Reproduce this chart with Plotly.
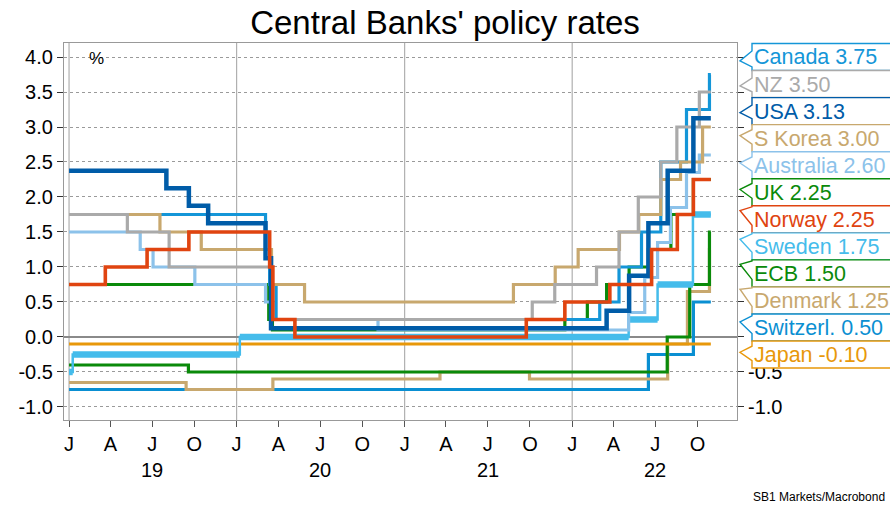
import plotly.graph_objects as go
from decimal import Decimal, ROUND_HALF_UP

END = "2022-10-30"

# ---------------- data (step change dates and policy rates) ----------------
usa_dates = ["2019-01-01", "2019-08-01", "2019-09-19", "2019-10-31", "2020-03-04", "2020-03-16",
             "2022-03-17", "2022-05-05", "2022-06-16", "2022-07-28", "2022-09-22"]
usa_rates = [2.375, 2.125, 1.875, 1.625, 1.125, 0.125, 0.375, 0.875, 1.625, 2.375, 3.125]

canada_dates = ["2019-01-01", "2020-03-04", "2020-03-13", "2020-03-27", "2022-03-02", "2022-04-13",
                "2022-06-01", "2022-07-13", "2022-09-07", "2022-10-27"]
canada_rates = [1.75, 1.25, 0.75, 0.25, 0.50, 1.00, 1.50, 2.50, 3.25, 3.75]

nz_dates = ["2019-01-01", "2019-05-08", "2019-08-07", "2020-03-16", "2021-10-06", "2021-11-24",
            "2022-02-23", "2022-04-13", "2022-05-25", "2022-07-13", "2022-08-17", "2022-10-05"]
nz_rates = [1.75, 1.50, 1.00, 0.25, 0.50, 0.75, 1.00, 1.50, 2.00, 2.50, 3.00, 3.50]

korea_dates = ["2019-01-01", "2019-07-18", "2019-10-16", "2020-03-17", "2020-05-28", "2021-08-26",
               "2021-11-25", "2022-01-14", "2022-04-14", "2022-05-26", "2022-07-13", "2022-08-25",
               "2022-10-12"]
korea_rates = [1.75, 1.50, 1.25, 0.75, 0.50, 0.75, 1.00, 1.25, 1.50, 1.75, 2.25, 2.50, 3.00]

australia_dates = ["2019-01-01", "2019-06-05", "2019-07-03", "2019-10-02", "2020-03-04", "2020-03-20",
                   "2020-11-04", "2022-05-04", "2022-06-08", "2022-07-06", "2022-08-03", "2022-09-07",
                   "2022-10-05"]
australia_rates = [1.50, 1.25, 1.00, 0.75, 0.50, 0.25, 0.10, 0.35, 0.85, 1.35, 1.85, 2.35, 2.60]

uk_dates = ["2019-01-01", "2020-03-11", "2020-03-19", "2021-12-16", "2022-02-03", "2022-03-17",
            "2022-05-05", "2022-06-16", "2022-08-04", "2022-09-22"]
uk_rates = [0.75, 0.25, 0.10, 0.25, 0.50, 0.75, 1.00, 1.25, 1.75, 2.25]

norway_dates = ["2019-01-01", "2019-03-21", "2019-06-20", "2019-09-19", "2020-03-13", "2020-03-20",
                "2020-05-07", "2021-09-23", "2021-12-16", "2022-03-24", "2022-06-23", "2022-08-18",
                "2022-09-22"]
norway_rates = [0.75, 1.00, 1.25, 1.50, 1.00, 0.25, 0.00, 0.25, 0.50, 0.75, 1.25, 1.75, 2.25]

sweden_dates = ["2019-01-01", "2019-01-09", "2020-01-08", "2022-05-04", "2022-07-06", "2022-09-21"]
sweden_rates = [-0.50, -0.25, 0.00, 0.25, 0.75, 1.75]

ecb_dates = ["2019-01-01", "2019-09-18", "2022-07-27", "2022-09-14", "2022-10-27"]
ecb_rates = [-0.40, -0.50, 0.00, 0.75, 1.50]

denmark_dates = ["2019-01-01", "2019-09-13", "2020-03-20", "2021-03-19", "2021-09-30", "2022-07-28",
                 "2022-09-09", "2022-10-27"]
denmark_rates = [-0.65, -0.75, -0.60, -0.50, -0.60, -0.10, 0.65, 1.25]

swiss_dates = ["2019-01-01", "2022-06-16", "2022-09-22"]
swiss_rates = [-0.75, -0.25, 0.50]

japan_dates = ["2019-01-01"]
japan_rates = [-0.10]

# callout labels (top to bottom)
callout_names = ["Canada", "NZ", "USA", "S Korea", "Australia", "UK", "Norway", "Sweden", "ECB",
                 "Denmark", "Switzerl.", "Japan"]

y_ticks = [-1.0, -0.5, 0.0, 0.5, 1.0, 1.5, 2.0, 2.5, 3.0, 3.5, 4.0]
month_letters = ["J", "A", "J", "O"]
years = [2019, 2020, 2021, 2022]

# ---------------- styling ----------------
C = {
    "Canada": "#1496d8", "NZ": "#aaaaaa", "USA": "#005ca8", "S Korea": "#c8a86e",
    "Australia": "#8cc2ea", "UK": "#0a8a0a", "Norway": "#e04410", "Sweden": "#45bceb",
    "ECB": "#0a8a0a", "Denmark": "#c8a86e", "Switzerl.": "#0a8fd2", "Japan": "#e8980a",
}
FONT = "Arial, Liberation Sans, sans-serif"

W, H = 890, 507
L, R, T, B = 64, 737, 43, 420
YMIN, YMAX = -1.186, 4.2
XMIN, XMAX = "2018-12-21", "2022-12-26"


def xp(px):
    return (px - L) / (R - L)


def yp(py):
    return (B - py) / (B - T)


def val_to_py(v):
    return B - (v - YMIN) / (YMAX - YMIN) * (B - T)


def step_xy(dates, rates):
    return list(dates) + [END], list(rates) + [rates[-1]]


series = {
    "Canada": (canada_dates, canada_rates), "NZ": (nz_dates, nz_rates), "USA": (usa_dates, usa_rates),
    "S Korea": (korea_dates, korea_rates), "Australia": (australia_dates, australia_rates),
    "UK": (uk_dates, uk_rates), "Norway": (norway_dates, norway_rates),
    "Sweden": (sweden_dates, sweden_rates), "ECB": (ecb_dates, ecb_rates),
    "Denmark": (denmark_dates, denmark_rates), "Switzerl.": (swiss_dates, swiss_rates),
    "Japan": (japan_dates, japan_rates),
}

fig = go.Figure()

draw_order = ["Switzerl.", "Denmark", "ECB", "Japan", "Sweden", "UK", "Australia", "Canada",
              "S Korea", "NZ", "USA", "Norway"]
widths = {"USA": 4.5, "Norway": 3.6, "Sweden": 2.5}

for name in draw_order:
    d, r = series[name]
    x, y = step_xy(d, r)
    fig.add_trace(go.Scatter(
        x=x, y=y, mode="lines", line=dict(color=C[name], width=widths.get(name, 3.2), shape="hv"),
        yaxis="y2" if name == "Norway" else "y", hoverinfo="skip", showlegend=False))
    if name == "Sweden":
        # thick horizontal segments of the Swedish rate
        sx, sy = [], []
        xs, ys = step_xy(d, r)
        for i in range(len(d)):
            sx += [xs[i], xs[i + 1], None]
            sy += [ys[i], ys[i], None]
        fig.add_trace(go.Scatter(x=sx, y=sy, mode="lines", line=dict(color=C[name], width=6.5),
                                 hoverinfo="skip", showlegend=False))

# ---------------- shapes: year gridlines ----------------
shapes = []
for yr in years:
    shapes.append(dict(type="line", xref="x", yref="paper", x0=f"{yr}-01-01", x1=f"{yr}-01-01",
                       y0=0, y1=1, line=dict(color="#b0b0b0", width=1.2), layer="below"))

# ---------------- callouts ----------------
annotations = []
box_left, tip_x, box_right = 752, 740, 905
box_centers = [57 + 27.05 * i for i in range(len(callout_names))]
for name, cy in zip(callout_names, box_centers):
    d, r = series[name]
    last = r[-1]
    top, bot = cy - 13.5, cy + 13.5
    vpy = val_to_py(last)
    tip_y = cy + 0.22 * (vpy - cy)
    a = max(top + 1, min(tip_y, cy) - 6)
    b = min(bot - 1, max(tip_y, cy) + 6)
    path = (f"M {xp(box_left)},{yp(top)} L {xp(box_left)},{yp(a)} L {xp(tip_x)},{yp(tip_y)} "
            f"L {xp(box_left)},{yp(b)} L {xp(box_left)},{yp(bot)} L {xp(box_right)},{yp(bot)} "
            f"L {xp(box_right)},{yp(top)} Z")
    shapes.append(dict(type="path", xref="paper", yref="paper", path=path, fillcolor="white",
                       line=dict(color=C[name], width=1.4), layer="above"))
    txt = f"{name} {Decimal(str(last)).quantize(Decimal('0.01'), rounding=ROUND_HALF_UP)}"
    annotations.append(dict(text=txt, xref="paper", yref="paper", x=xp(752), y=yp(cy + 0.5),
                            xanchor="left", yanchor="middle", showarrow=False,
                            font=dict(size=21.5, color=C[name], family=FONT)))

# right-axis labels: only those below the callout stack are visible
boxes_bottom = box_centers[-1] + 13.5
tick_text_y = [f"{v:.1f}" for v in y_ticks]
tick_text_y2 = [t if val_to_py(v) > boxes_bottom else "" for v, t in zip(y_ticks, tick_text_y)]

# year labels
for yr in years:
    annotations.append(dict(text=str(yr)[2:], xref="x", yref="paper", x=f"{yr}-07-01", y=yp(470),
                            xanchor="center", yanchor="middle", showarrow=False,
                            font=dict(size=20, color="black", family=FONT)))

annotations.append(dict(text="%", xref="paper", yref="paper", x=xp(87), y=yp(58), xanchor="left",
                        yanchor="middle", showarrow=False, font=dict(size=17, color="black", family=FONT)))
annotations.append(dict(text="SB1 Markets/Macrobond", xref="paper", yref="paper", x=xp(887), y=yp(497),
                        xanchor="right", yanchor="middle", showarrow=False,
                        font=dict(size=12, color="black", family=FONT)))

tick_vals_x = [f"{yr}-{m:02d}-01" for yr in years for m in (1, 4, 7, 10)]
tick_text_x = month_letters * len(years)

fig.update_layout(
    width=W, height=H,
    margin=dict(l=L, r=W - R, t=T, b=H - B),
    paper_bgcolor="white", plot_bgcolor="white",
    title=dict(text="Central Banks' policy rates", x=0.5, xanchor="center", y=1 - 22 / H, yanchor="middle",
               yref="container", font=dict(size=33, color="black", family=FONT)),
    font=dict(family=FONT, color="black"),
    xaxis=dict(type="date", range=[XMIN, XMAX], tickvals=tick_vals_x, ticktext=tick_text_x,
               showgrid=False, zeroline=False, ticks="outside", ticklen=6, tickcolor="#555",
               tickfont=dict(size=20, family=FONT), showline=True, linecolor="#999", linewidth=1.2,
               mirror=True),
    yaxis=dict(range=[YMIN, YMAX], tickvals=y_ticks, ticktext=tick_text_y, ticks="outside", ticklen=6,
               tickcolor="#333", tickfont=dict(size=20, family=FONT), showgrid=True, gridcolor="#9a9a9a",
               griddash="dot", gridwidth=1, zeroline=True, zerolinecolor="#8a8a8a", zerolinewidth=2,
               showline=True, linecolor="#999", linewidth=1.2, mirror=True),
    yaxis2=dict(range=[YMIN, YMAX], overlaying="y", side="right", tickvals=y_ticks, ticktext=tick_text_y2,
                ticks="outside", ticklen=6, tickcolor="#333", tickfont=dict(size=20, family=FONT),
                showgrid=False, zeroline=False, showline=False),
    shapes=shapes, annotations=annotations,
)

fig.write_html("out.html", config={"displayModeBar": False},
               post_script="document.body.style.margin='0px';")
